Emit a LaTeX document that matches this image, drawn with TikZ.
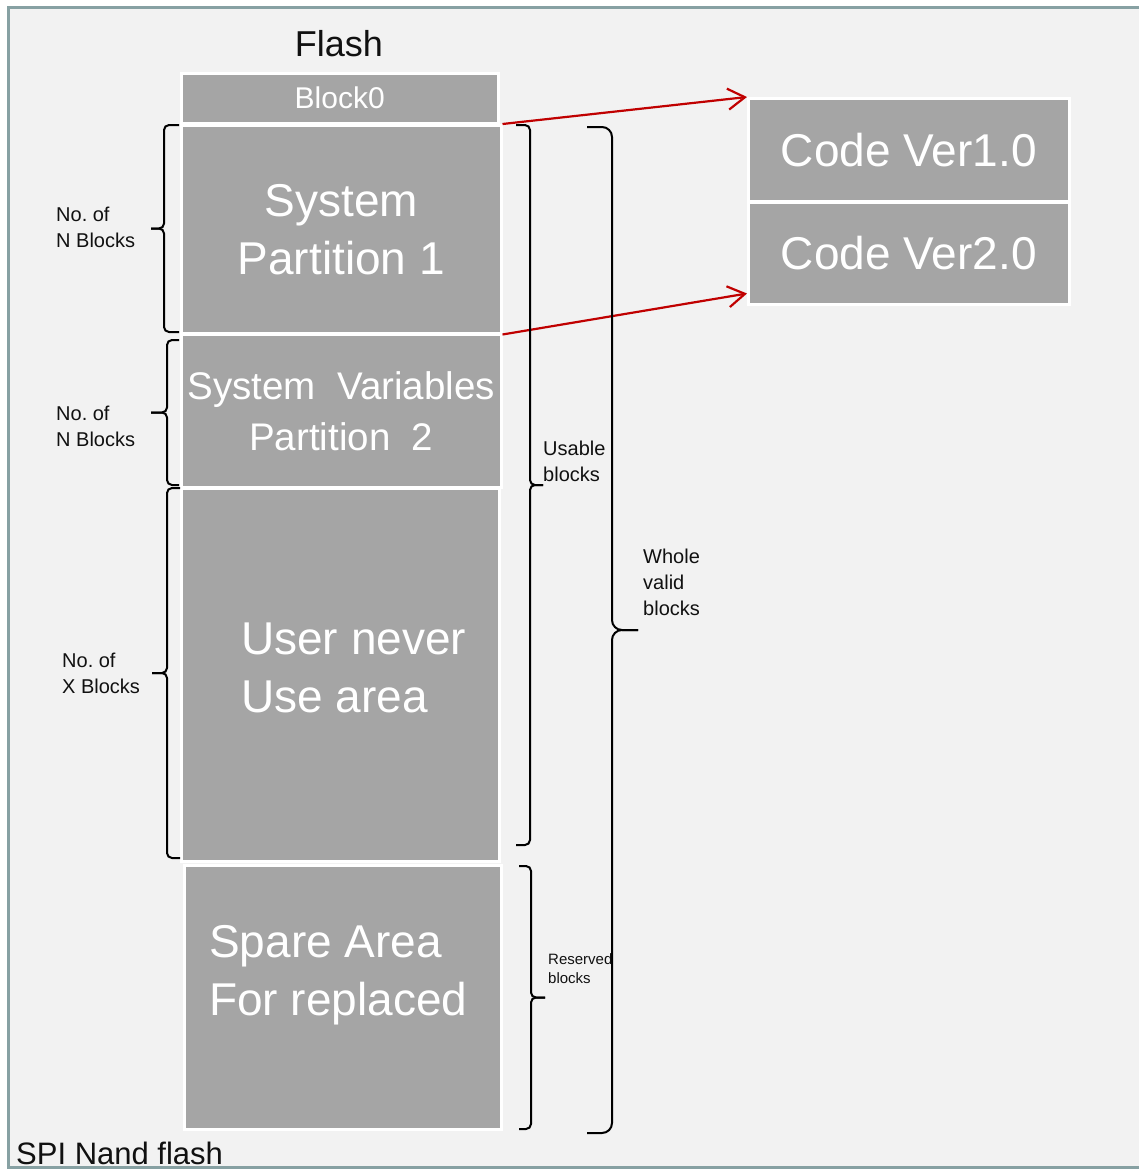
\documentclass[tikz,border=0pt]{standalone}
\usepackage{fontspec}
\setmainfont{Liberation Sans}
\usetikzlibrary{arrows.meta,calc}
\definecolor{bgc}{HTML}{F2F2F2}
\definecolor{framec}{HTML}{87A1A3}
\definecolor{boxc}{HTML}{A5A5A5}
\definecolor{arrc}{HTML}{C00000}
\definecolor{txtc}{HTML}{111111}
\newcommand\mybrace[6]{%
  \draw[bracel, rounded corners=#6] (#1,#4) -- (#2,#4) -- (#2,{(#4+#5)/2}) -- (#3,{(#4+#5)/2});
  \draw[bracel, rounded corners=#6] (#1,#5) -- (#2,#5) -- (#2,{(#4+#5)/2}) -- (#3,{(#4+#5)/2});}
\begin{document}
\begin{tikzpicture}[x=1pt,y=-1pt,
  blk/.style={draw=white, line width=2.5pt, fill=boxc, inner sep=0pt, anchor=north west, text=white},
  bigtxt/.style={font=\fontsize{46}{58}\selectfont},
  midtxt/.style={font=\fontsize{38.5}{51}\selectfont},
  lbl/.style={inner sep=0pt, anchor=west, align=left, text=txtc, font=\fontsize{20}{26}\selectfont},
  bracel/.style={draw=black, line width=2pt},
  redarrow/.style={draw=arrc, line width=2.2pt, -{Straight Barb[length=17pt,width=21pt,line width=2.2pt]}}]
\useasboundingbox (0,0) rectangle (1139,1171);
\fill[white] (0,0) rectangle (1139,1171);
\fill[bgc] (8.5,7.5) rectangle (1160,1167.5);

% title
\node[inner sep=0pt, text=txtc, font=\fontsize{36}{43}\selectfont] (title) at (339,44) {Flash};

% flash blocks
\node[blk, minimum width=317, minimum height=50, font=\fontsize{30}{36}\selectfont] (b0) at (180,72) {Block0};
\node[blk, minimum width=320, minimum height=208, bigtxt, align=center] (sys1) at (180,124) {System\\Partition 1};
\node[blk, minimum width=320, minimum height=153, midtxt, align=center] (sys2) at (180,333) {System\ \ Variables\\Partition\ \ 2};
\node[blk, minimum width=318, minimum height=373] (user) at (180,487) {};
\node[blk, minimum width=317, minimum height=264] (spare) at (183,864) {};
\node[inner sep=0pt, anchor=west, align=left, text=white, bigtxt] (usertxt) at (241,667.5) {User never\\Use area};
\node[inner sep=0pt, anchor=west, align=left, text=white, bigtxt] (sparetxt) at (209,975) {Spare Area\\For replaced};

% code versions
\node[blk, minimum width=321, minimum height=103, bigtxt] (code1) at (747,97) {Code Ver1.0};
\node[blk, minimum width=321, minimum height=102, bigtxt] (code2) at (747,201) {Code Ver2.0};

% arrows
\draw[redarrow] (sys1.north east) -- (code1.north west);
\draw[redarrow] (sys1.south east) -- ([yshift=12pt]code2.south west);

% braces
\mybrace{179}{164}{151}{125}{332}{5}
\mybrace{179}{167}{151}{340}{485}{5}
\mybrace{180}{167}{152}{488}{858}{5}
\mybrace{516}{530}{543}{125}{845}{5}
\mybrace{587}{612}{638}{127}{1133}{10}
\mybrace{519}{531}{545}{866}{1129}{5}

% brace labels
\node[lbl] (l1) at (56,227) {No.\ of\\N Blocks};
\node[lbl] (l2) at (56,426) {No.\ of\\N Blocks};
\node[lbl] (l3) at (62,673.5) {No.\ of\\X Blocks};
\node[lbl] (usable) at (543,461) {Usable\\blocks};
\node[lbl] (whole) at (643,582) {Whole\\valid\\blocks};
\node[lbl, font=\fontsize{15}{19}\selectfont] (reserved) at (548,969) {Reserved\\blocks};

% frame caption and border
\node[inner sep=0pt, anchor=base west, text=txtc, font=\fontsize{31}{37}\selectfont] (spi) at (16,1164) {SPI Nand flash};
\draw[framec, line width=3pt] (8.5,7.5) rectangle (1160,1167.5);
\end{tikzpicture}
\end{document}
